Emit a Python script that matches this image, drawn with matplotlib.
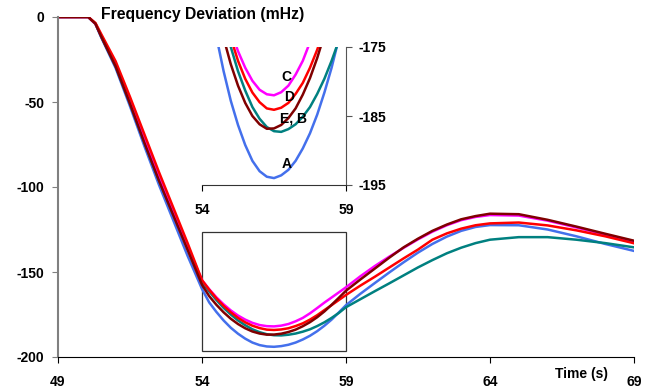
import matplotlib
matplotlib.use("Agg")
import matplotlib.pyplot as plt
import matplotlib.patches as mpatches

plt.rcParams['font.family'] = ['Liberation Sans', 'DejaVu Sans']
plt.rcParams['font.weight'] = 'bold'
plt.rcParams['axes.unicode_minus'] = False

# time axis (s)
time = [49, 50.05, 50.3, 50.5, 51, 51.5, 52, 52.5, 53, 53.5,
        54, 54.25, 54.5, 54.75, 55, 55.25, 55.5, 55.75, 56, 56.25, 56.5,
        56.75, 57, 57.25, 57.5, 57.75, 58, 58.25, 58.5, 58.75, 59,
        59.5, 60, 60.5, 61, 61.5, 62, 62.5, 63, 63.5, 64, 65, 66, 67, 68, 69]

# frequency deviation (mHz) for the five cases
caseA = [0, 0, -4, -12, -30, -52.5, -76, -98.5, -119.5, -140.5,
         -160, -167.9, -173.5, -178.5, -182.8, -186.3, -189.2, -191.5, -193, -193.8, -194,
         -193.6, -192.8, -191.5, -189.7, -187.5, -184.8, -181.6, -178, -173.8, -169.5,
         -162.8, -156.5, -150.3, -144.3, -138.6, -133.5, -129.2, -125.8, -123.5, -122.4,
         -122.5, -125, -129, -133.5, -137.6]
caseB = [0, 0, -4, -11.5, -29, -51, -74, -96, -116, -136,
         -155.7, -161.4, -166.5, -171.1, -175, -178.5, -181.3, -183.7, -185.4, -186.6, -187.2,
         -187.3, -186.9, -186.2, -185.1, -183.7, -181.8, -179.6, -177, -174.1, -170.7,
         -166, -161.3, -156.7, -152, -147.3, -143, -139, -135.7, -133, -131,
         -129.5, -129.5, -131, -133, -135.5]
caseC = [0, 0, -4, -11, -28, -50, -72, -94, -114.5, -135,
         -154.8, -160.1, -164.9, -169, -172.6, -175.6, -178, -179.9, -181.2, -181.85, -182,
         -181.55, -180.6, -179, -177, -174.3, -171.2, -168, -165, -162, -159,
         -152.5, -146.5, -141, -135.8, -130.8, -126.3, -122.5, -119.5, -117.6, -116.5,
         -116.8, -119.8, -123.8, -128, -132]
caseD = [0, 0, -3.5, -10, -26, -47, -69, -91, -112, -133,
         -154.8, -160.4, -165.5, -169.9, -173.7, -177, -179.6, -181.6, -183, -183.9, -184.1,
         -183.8, -183.1, -181.8, -180.2, -178, -175.4, -172.4, -169.5, -166.5, -163.5,
         -158, -152.8, -147.4, -142, -136.8, -131, -127.3, -124.5, -122.5, -121.4,
         -120.9, -122.6, -125.5, -129, -133.1]
caseE = [0, 0, -4, -11.5, -29, -51, -74, -96, -116.5, -137,
         -157.5, -164.2, -169.3, -173.7, -177.5, -180.6, -183.1, -185, -186.2, -186.85, -186.8,
         -186.3, -185.3, -183.9, -181.9, -179.5, -176.6, -173.2, -169.3, -165.2, -161,
         -154.4, -148, -141.6, -135.5, -130.4, -125.8, -122.1, -119, -117.1, -115.7,
         -116, -119.3, -123.3, -127.5, -131.6]

series = [caseA, caseB, caseC, caseD, caseE]
colors = ['#4470EC', '#008080', '#FF00FF', '#FF0000', '#800000']

xticks = [49, 54, 59, 64, 69]
yticks = [0, -50, -100, -150, -200]
inset_xticks = [54, 59]
inset_yticks = [-175, -185, -195]
inset_labels = ['C', 'D', 'E, B', 'A']
inset_label_pos = [(56.94, -179.4), (57.02, -182.3), (57.17, -185.4), (56.94, -192)]

fig = plt.figure(figsize=(6.58, 3.92), dpi=100)

# main chart
ax = fig.add_axes([58/658, 1-357/392, 576/658, 340/392])
for s, c in zip(series, colors):
    ax.plot(time, s, color=c, lw=1.8)
ax.set_xlim(49, 69)
ax.set_ylim(-200, 0)
ax.set_xticks(xticks)
ax.set_yticks(yticks)
ax.spines['top'].set_visible(False)
ax.spines['right'].set_visible(False)
ax.spines['left'].set_color('#808080')
ax.spines['left'].set_linewidth(1.5)
ax.spines['bottom'].set_color('black')
ax.tick_params(axis='y', direction='out', length=4, colors='#808080', labelcolor='black', labelsize=10, pad=6)
ax.tick_params(axis='x', direction='out', length=4, labelsize=10, pad=9)
for lab in ax.get_xticklabels() + ax.get_yticklabels():
    lab.set_fontweight('bold')
ax.text(50.5, 1.5, 'Frequency Deviation (mHz)', fontsize=11.3, fontweight='bold', va='center', ha='left',
        clip_on=False)
ax.text(66.26, -210, 'Time (s)', fontsize=10, fontweight='bold', va='center', ha='left', clip_on=False)

# zoom box
ax.add_patch(mpatches.Rectangle((54, -196.5), 5, 70.2, fill=False, edgecolor='#333333', lw=0.9))

# inset
ins = fig.add_axes([202/658, 1-185/392, 144/658, 138/392])
ins.patch.set_alpha(0)
for s, c in zip(series, colors):
    ins.plot(time, s, color=c, lw=1.8)
ins.set_xlim(54, 59)
ins.set_ylim(-195, -175)
ins.set_xticks(inset_xticks)
ins.set_yticks(inset_yticks)
ins.spines['top'].set_visible(False)
ins.spines['left'].set_visible(False)
ins.spines['right'].set_color('#555555')
ins.spines['bottom'].set_color('#333333')
ins.yaxis.tick_right()
ins.tick_params(axis='y', direction='out', length=4, colors='#555555', labelcolor='black', labelsize=10, pad=5)
ins.tick_params(axis='x', direction='out', length=4, labelsize=10, pad=9)
for lab in ins.get_xticklabels() + ins.get_yticklabels():
    lab.set_fontweight('bold')
for lab, (x, y) in zip(inset_labels, inset_label_pos):
    ins.text(x, y, lab, fontsize=10, fontweight='bold', ha='center', va='center')

fig.savefig('out.png', dpi=100)
